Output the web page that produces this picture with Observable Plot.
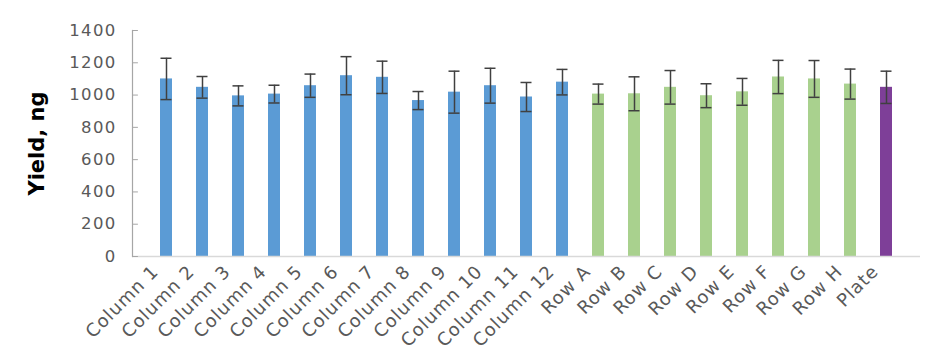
<!DOCTYPE html>
<html><head><meta charset="utf-8">
<script src="https://cdn.jsdelivr.net/npm/d3@7"></script>
<script src="https://cdn.jsdelivr.net/npm/@observablehq/plot@0.6"></script>
<style>
html,body{margin:0;padding:0;background:#fff;}
#chart svg{display:block;font-family:"DejaVu Sans",sans-serif;}
#chart g[aria-label="y-axis tick label"]{font-size:16.5px;letter-spacing:1.3px;}
#chart g[aria-label="x-axis tick label"]{font-size:18px;letter-spacing:1px;}
#chart g.ylab{font-size:21px;font-weight:bold;}
</style>
</head><body><div id="chart"></div>
<script>
const categories = ["Column 1","Column 2","Column 3","Column 4","Column 5","Column 6","Column 7","Column 8","Column 9","Column 10","Column 11","Column 12","Row A","Row B","Row C","Row D","Row E","Row F","Row G","Row H","Plate"];
const groups = ["Column","Column","Column","Column","Column","Column","Column","Column","Column","Column","Column","Column","Row","Row","Row","Row","Row","Row","Row","Row","Plate"];
const yieldValues = [1100,1048,995,1006,1058,1120,1110,966,1018,1058,988,1080,1006,1008,1048,996,1020,1112,1100,1068,1048];
const errors = [128,67,62,55,72,118,100,56,130,108,90,79,62,105,104,74,83,103,114,93,100];
const yTicks = [0,200,400,600,800,1000,1200,1400];

const data = categories.map((c,i)=>({cat:c, group:groups[i], v:yieldValues[i], lo:yieldValues[i]-errors[i], hi:yieldValues[i]+errors[i]}));

const tickShape = {draw(context, l){ context.moveTo(0,0); context.lineTo(0,-l); }};

const plot = Plot.plot({
  width: 930, height: 355,
  marginLeft: 132, marginRight: 10, marginTop: 30, marginBottom: 99,
  style: {color: "#595959", background: "#fff"},
  x: {domain: categories, padding: 0.68, label: null},
  y: {domain: [0,1400], label: null},
  color: {domain: ["Column","Row","Plate"], range: ["#5B9BD5","#A9D18E","#7E3F98"]},
  marks: [
    Plot.barY(data, {x:"cat", y:"v", fill:"group"}),
    Plot.ruleX(data, {x:"cat", y1:"lo", y2:"hi", stroke:"#404040", strokeWidth:1.5}),
    Plot.tickY(data, {x:"cat", y:"lo", stroke:"#404040", strokeWidth:1.5, insetLeft:0.5, insetRight:0.5}),
    Plot.tickY(data, {x:"cat", y:"hi", stroke:"#404040", strokeWidth:1.5, insetLeft:0.5, insetRight:0.5}),
    Plot.ruleY([0], {stroke:"#D9D9D9", strokeWidth:1.5}),
    Plot.frame({anchor:"left", stroke:"#A6A6A6", strokeWidth:1.2}),
    Plot.vector(yTicks, {y: d=>d, frameAnchor:"left", length:5, rotate:90, anchor:"start", shape: tickShape, stroke:"#A6A6A6", strokeWidth:1}),
    Plot.axisY({ticks: yTicks, tickSize: 0, tickPadding: 16, tickFormat: d=>String(d), fill:"#595959", label: null}),
    Plot.axisX({tickSize: 0, tickRotate: -45, tickPadding: 6, dx: -11, dy: 6, fill:"#595959", label: null}),
    Plot.text(["Yield, ng"], {frameAnchor:"left", textAnchor:"middle", dx:-95, rotate:-90, fill:"#000", className:"ylab"})
  ]
});
document.getElementById("chart").appendChild(plot);
</script>
</body></html>
